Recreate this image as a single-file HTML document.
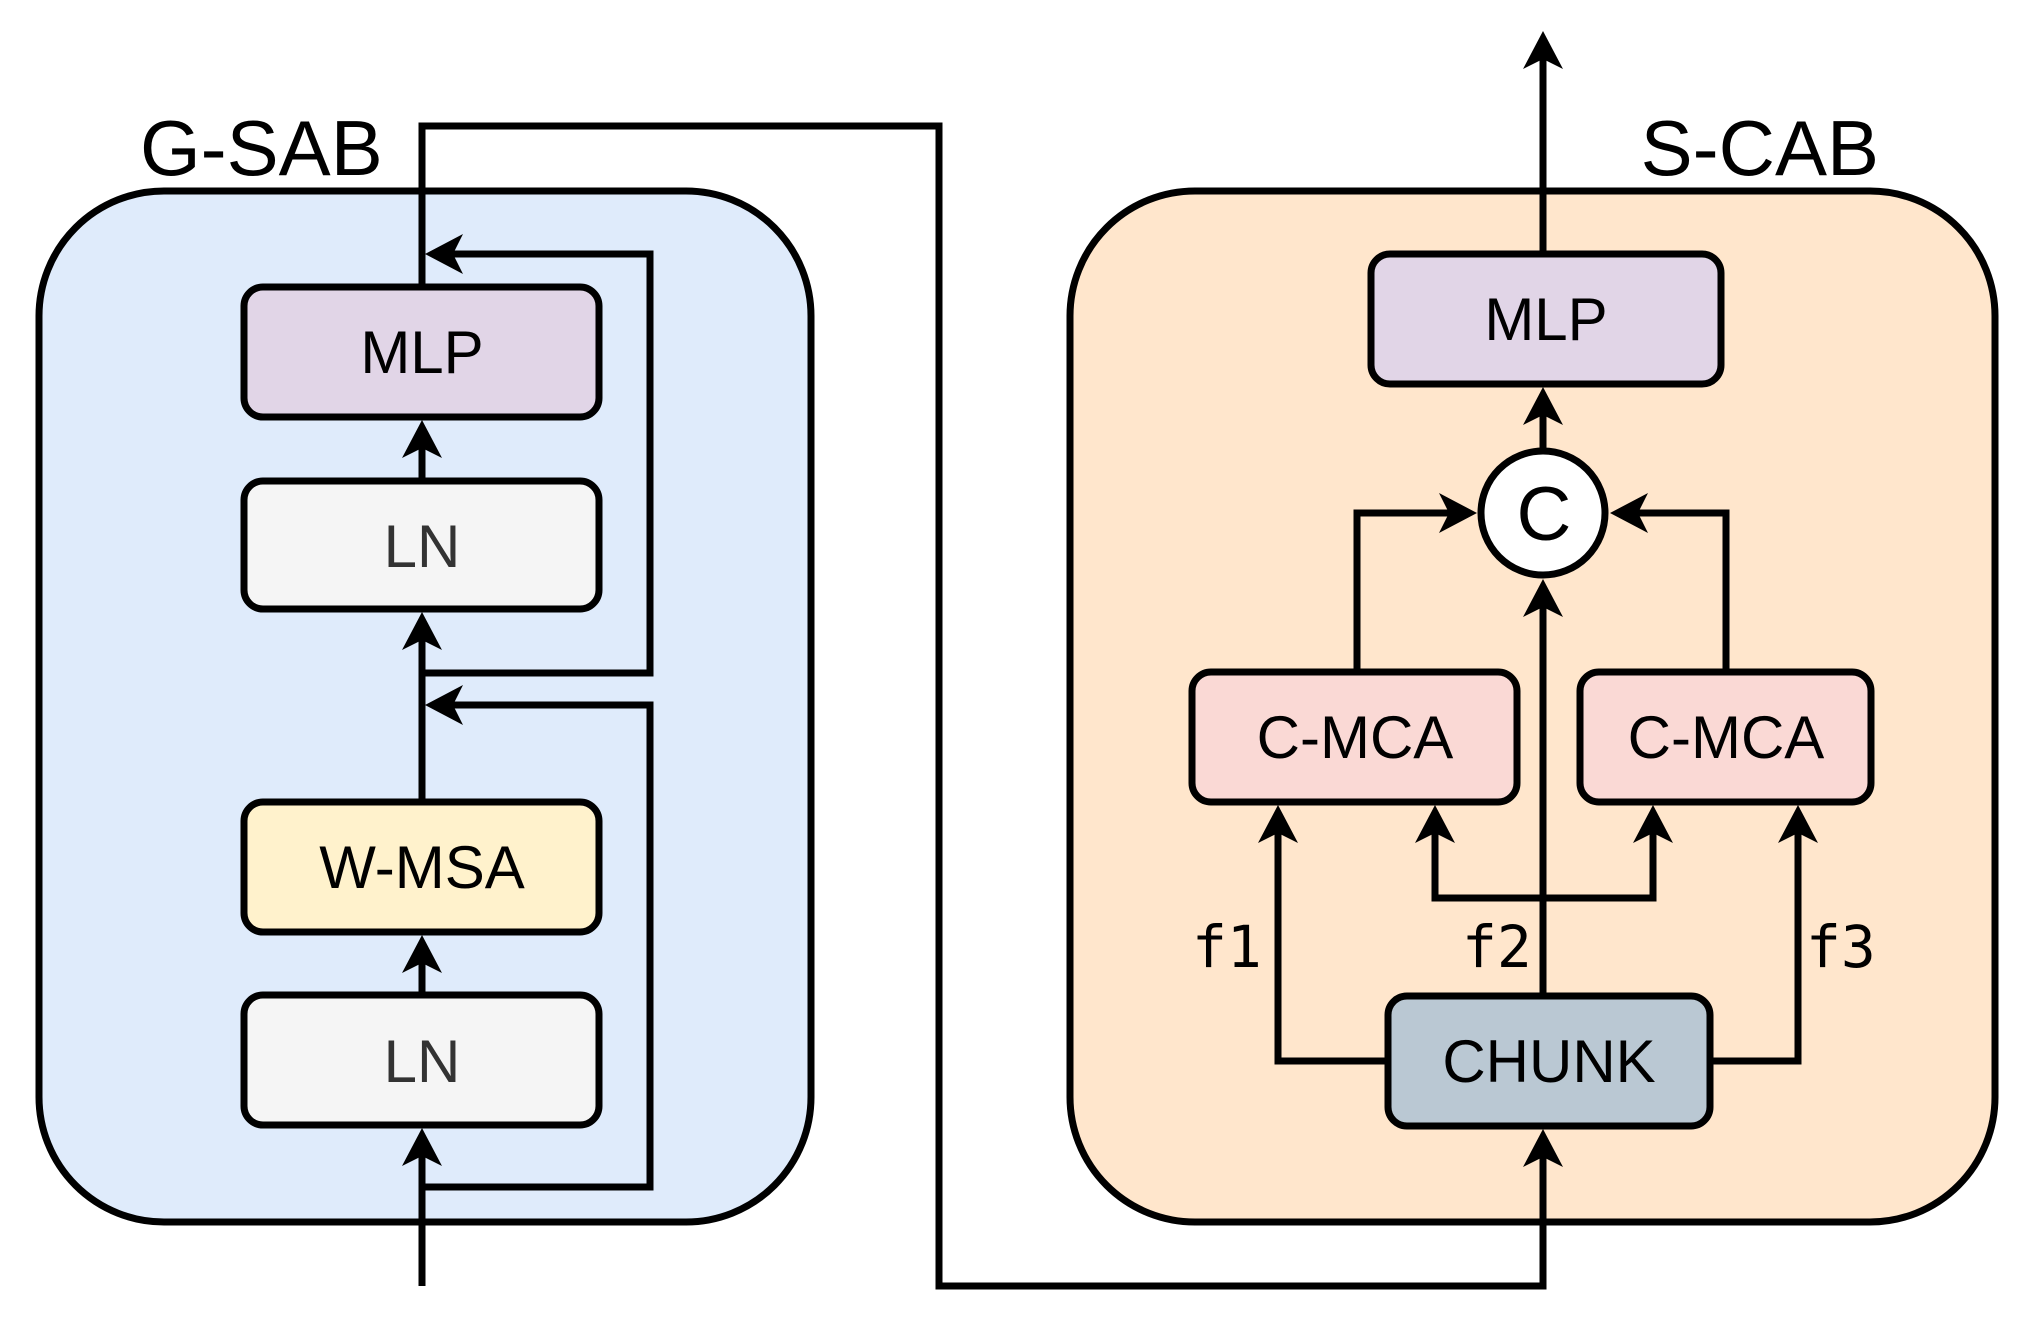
<!DOCTYPE html>
<html><head><meta charset="utf-8"><style>
html,body{margin:0;padding:0;background:#fff}
svg{display:block}
svg text{font-family:"Liberation Sans",Arial,Helvetica,sans-serif !important}
svg text.m{font-family:"DejaVu Sans Mono","Liberation Mono",monospace !important}
</style></head><body>
<svg width="2024" height="1319" viewBox="0 0 2024 1319" xmlns="http://www.w3.org/2000/svg">
<rect x="39" y="191" width="772" height="1031" rx="125" fill="#dfebfb" stroke="#000" stroke-width="7"/>
<rect x="1070" y="191" width="925" height="1031" rx="125" fill="#ffe6cc" stroke="#000" stroke-width="7"/>
<text x="140" y="175" font-size="78">G-SAB</text>
<text x="1879" y="175" font-size="78" text-anchor="end">S-CAB</text>

<g fill="none" stroke="#000" stroke-width="7">
<line x1="422" y1="1286" x2="422" y2="1150"/>
<polyline points="422,1187 650,1187 650,705 450,705"/>
<line x1="422" y1="802" x2="422" y2="635"/>
<line x1="422" y1="995" x2="422" y2="958"/>
<line x1="422" y1="481" x2="422" y2="443"/>
<polyline points="422,673 650,673 650,254 450,254"/>
<polyline points="422,287 422,126 939,126 939,1286 1543,1286 1543,1152"/>
<line x1="1543" y1="254" x2="1543" y2="55"/>
<line x1="1543" y1="449" x2="1543" y2="410"/>
<line x1="1543" y1="996" x2="1543" y2="602"/>
<polyline points="1357,672 1357,513 1453,513"/>
<polyline points="1726,672 1726,513 1634,513"/>
<polyline points="1388,1061 1278,1061 1278,828"/>
<polyline points="1710,1061 1798,1061 1798,828"/>
<polyline points="1435,828 1435,898 1653,898 1653,828"/>
</g>
<g fill="#000">
<polygon points="422,1128 402,1166 422,1156 442,1166"/>
<polygon points="422,935 402,973 422,963 442,973"/>
<polygon points="422,612 402,650 422,640 442,650"/>
<polygon points="422,420 402,458 422,448 442,458"/>
<polygon points="1543,31 1523,69 1543,59 1563,69"/>
<polygon points="1543,387 1523,425 1543,415 1563,425"/>
<polygon points="1543,579 1523,617 1543,607 1563,617"/>
<polygon points="1543,1129 1523,1167 1543,1157 1563,1167"/>
<polygon points="1278,805 1258,843 1278,833 1298,843"/>
<polygon points="1435,805 1415,843 1435,833 1455,843"/>
<polygon points="1653,805 1633,843 1653,833 1673,843"/>
<polygon points="1798,805 1778,843 1798,833 1818,843"/>
<polygon points="425,254 463,234 453,254 463,274"/>
<polygon points="425,705 463,685 453,705 463,725"/>
<polygon points="1610,513 1648,493 1638,513 1648,533"/>
<polygon points="1477,513 1439,493 1449,513 1439,533"/>
</g>

<g stroke="#000" stroke-width="7">
<rect x="244" y="287" width="355" height="130" rx="19" fill="#e1d5e7"/>
<rect x="244" y="481" width="355" height="128" rx="19" fill="#f5f5f5"/>
<rect x="244" y="802" width="355" height="130" rx="19" fill="#fff2cc"/>
<rect x="244" y="995" width="355" height="130" rx="19" fill="#f5f5f5"/>
<rect x="1371" y="254" width="350" height="130" rx="19" fill="#e1d5e7"/>
<rect x="1192" y="672" width="325" height="130" rx="19" fill="#fad9d5"/>
<rect x="1580" y="672" width="291" height="130" rx="19" fill="#fad9d5"/>
<rect x="1388" y="996" width="322" height="130" rx="19" fill="#bac8d3"/>
<circle cx="1543" cy="513" r="62" fill="#fff"/>
</g>
<g font-size="60" text-anchor="middle">
<text x="422" y="373">MLP</text>
<text x="422" y="567" fill="#333">LN</text>
<text x="422" y="888">W-MSA</text>
<text x="422" y="1082" fill="#333">LN</text>
<text x="1546" y="340">MLP</text>
<text x="1355" y="758">C-MCA</text>
<text x="1726" y="758">C-MCA</text>
<text x="1549" y="1082">CHUNK</text>
<text x="1544" y="540" font-size="76">C</text>
</g>
<g font-size="58">
<text class="m" x="1192" y="967">f1</text>
<text class="m" x="1462" y="967">f2</text>
<text class="m" x="1806" y="967">f3</text>
</g>
</svg>
</body></html>
